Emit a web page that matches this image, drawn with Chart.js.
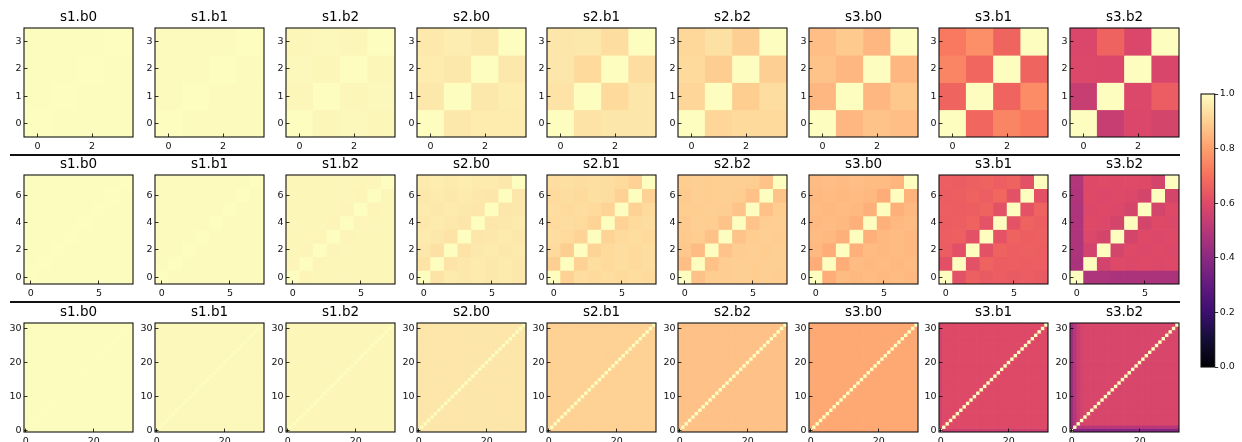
<!DOCTYPE html>
<html lang="en">
<head>
<meta charset="UTF-8">
<title>Block similarity heatmaps</title>
<script src="https://cdn.jsdelivr.net/npm/chart.js"></script>
<style>
  body { margin: 0; background: #fff; overflow: hidden; }
  #fig { position: relative; width: 1242px; height: 442px; overflow: hidden; background: #fff; }
  #fig canvas { position: absolute; }
  .sep { position: absolute; left: 10px; width: 1170px; height: 2px; background: #111; }
</style>
</head>
<body>
<div id="fig">
  <div class="sep" style="top:154px"></div>
  <div class="sep" style="top:301px"></div>
</div>
<script>
// ---- data ----
const titles = ['s1.b0', 's1.b1', 's1.b2', 's2.b0', 's2.b1', 's2.b2', 's3.b0', 's3.b1', 's3.b2'];
const matrixSizes = [4, 8, 32];
const xTicks = [[0, 2], [0, 5], [0, 20]];
const yTicks = [[0, 1, 2, 3], [0, 2, 4, 6], [0, 10, 20, 30]];
const colorbarTicks = [0, 0.2, 0.4, 0.6, 0.8, 1.0];

// 4x4 blocks, rows listed from y = 0 (bottom) upward
const s1b0_4 = [[1, 0.997, 0.997, 0.997], [0.997, 1, 0.997, 0.997], [0.997, 0.997, 1, 0.997], [0.997, 0.997, 0.997, 1]];
const s1b1_4 = [[1, 0.995, 0.996, 0.995], [0.995, 1, 0.995, 0.996], [0.996, 0.995, 1, 0.995], [0.995, 0.996, 0.995, 1]];
const s1b2_4 = [[1, 0.984, 0.99, 0.987], [0.984, 1, 0.987, 0.99], [0.99, 0.987, 1, 0.985], [0.987, 0.99, 0.985, 1]];
const s2b0_4 = [[1, 0.955, 0.962, 0.962], [0.955, 1, 0.955, 0.965], [0.962, 0.955, 1, 0.955], [0.957, 0.966, 0.955, 1]];
const s2b1_4 = [[1, 0.945, 0.95, 0.95], [0.945, 1, 0.925, 0.95], [0.95, 0.925, 1, 0.93], [0.95, 0.955, 0.93, 1]];
const s2b2_4 = [[1, 0.915, 0.925, 0.925], [0.915, 1, 0.895, 0.93], [0.925, 0.895, 1, 0.9], [0.92, 0.94, 0.9, 1]];
const s3b0_4 = [[1, 0.85, 0.875, 0.865], [0.85, 1, 0.85, 0.885], [0.875, 0.85, 1, 0.85], [0.865, 0.89, 0.85, 1]];
const s3b1_4 = [[1, 0.675, 0.745, 0.72], [0.67, 1, 0.67, 0.76], [0.745, 0.675, 1, 0.67], [0.72, 0.765, 0.67, 1]];
const s3b2_4 = [[1, 0.54, 0.59, 0.575], [0.54, 1, 0.595, 0.65], [0.595, 0.59, 1, 0.585], [0.59, 0.665, 0.59, 1]];

// 8x8 blocks, rows from y = 0 upward
const s1b0_8 = [
  [1, 0.997, 0.997, 0.997, 0.997, 0.997, 0.997, 0.997],
  [0.997, 1, 0.997, 0.997, 0.997, 0.997, 0.997, 0.997],
  [0.997, 0.997, 1, 0.997, 0.997, 0.997, 0.997, 0.997],
  [0.997, 0.997, 0.997, 1, 0.997, 0.997, 0.997, 0.997],
  [0.997, 0.997, 0.997, 0.997, 1, 0.997, 0.997, 0.997],
  [0.997, 0.997, 0.997, 0.997, 0.997, 1, 0.997, 0.997],
  [0.997, 0.997, 0.997, 0.997, 0.997, 0.997, 1, 0.997],
  [0.997, 0.997, 0.997, 0.997, 0.997, 0.997, 0.997, 1]];
const s1b1_8 = [
  [1, 0.993, 0.995, 0.994, 0.995, 0.994, 0.995, 0.994],
  [0.993, 1, 0.993, 0.995, 0.994, 0.995, 0.994, 0.995],
  [0.995, 0.993, 1, 0.993, 0.995, 0.994, 0.995, 0.994],
  [0.994, 0.995, 0.993, 1, 0.993, 0.995, 0.994, 0.995],
  [0.995, 0.994, 0.995, 0.993, 1, 0.993, 0.995, 0.994],
  [0.994, 0.995, 0.994, 0.995, 0.993, 1, 0.993, 0.995],
  [0.995, 0.994, 0.995, 0.994, 0.995, 0.993, 1, 0.993],
  [0.994, 0.995, 0.994, 0.995, 0.994, 0.995, 0.993, 1]];
const s1b2_8 = [
  [1, 0.982, 0.986, 0.985, 0.986, 0.985, 0.986, 0.985],
  [0.982, 1, 0.982, 0.986, 0.985, 0.986, 0.985, 0.986],
  [0.986, 0.982, 1, 0.983, 0.986, 0.985, 0.986, 0.985],
  [0.985, 0.986, 0.983, 1, 0.983, 0.986, 0.985, 0.986],
  [0.986, 0.985, 0.986, 0.983, 1, 0.983, 0.986, 0.985],
  [0.985, 0.986, 0.985, 0.986, 0.983, 1, 0.983, 0.986],
  [0.986, 0.985, 0.986, 0.985, 0.986, 0.983, 1, 0.984],
  [0.986, 0.987, 0.986, 0.987, 0.986, 0.986, 0.984, 1]];
const s2b0_8 = [
  [1, 0.945, 0.96, 0.955, 0.96, 0.955, 0.96, 0.955],
  [0.945, 1, 0.945, 0.955, 0.96, 0.955, 0.96, 0.955],
  [0.955, 0.94, 1, 0.945, 0.955, 0.96, 0.955, 0.96],
  [0.96, 0.955, 0.945, 1, 0.95, 0.955, 0.96, 0.955],
  [0.955, 0.96, 0.955, 0.95, 1, 0.95, 0.955, 0.96],
  [0.96, 0.955, 0.96, 0.955, 0.95, 1, 0.95, 0.955],
  [0.955, 0.96, 0.955, 0.96, 0.955, 0.95, 1, 0.95],
  [0.96, 0.965, 0.96, 0.965, 0.96, 0.96, 0.955, 1]];
const s2b1_8 = [
  [1, 0.905, 0.93, 0.925, 0.93, 0.925, 0.93, 0.925],
  [0.9, 1, 0.905, 0.93, 0.925, 0.93, 0.925, 0.93],
  [0.925, 0.895, 1, 0.91, 0.925, 0.93, 0.925, 0.93],
  [0.93, 0.925, 0.91, 1, 0.91, 0.925, 0.93, 0.925],
  [0.925, 0.93, 0.925, 0.91, 1, 0.905, 0.925, 0.93],
  [0.93, 0.925, 0.93, 0.925, 0.91, 1, 0.905, 0.925],
  [0.925, 0.93, 0.925, 0.935, 0.93, 0.905, 1, 0.905],
  [0.93, 0.935, 0.93, 0.935, 0.93, 0.925, 0.905, 1]];
const s2b2_8 = [
  [1, 0.87, 0.895, 0.895, 0.9, 0.895, 0.9, 0.895],
  [0.865, 1, 0.87, 0.895, 0.9, 0.895, 0.9, 0.9],
  [0.885, 0.86, 1, 0.875, 0.895, 0.9, 0.895, 0.9],
  [0.89, 0.895, 0.87, 1, 0.875, 0.895, 0.9, 0.895],
  [0.89, 0.9, 0.895, 0.875, 1, 0.875, 0.895, 0.9],
  [0.895, 0.895, 0.9, 0.895, 0.875, 1, 0.87, 0.895],
  [0.89, 0.9, 0.895, 0.9, 0.895, 0.87, 1, 0.875],
  [0.895, 0.9, 0.895, 0.9, 0.9, 0.895, 0.875, 1]];
const s3b0_8 = [
  [1, 0.83, 0.86, 0.855, 0.86, 0.855, 0.86, 0.855],
  [0.83, 1, 0.83, 0.86, 0.855, 0.86, 0.855, 0.86],
  [0.855, 0.83, 1, 0.835, 0.86, 0.855, 0.86, 0.855],
  [0.86, 0.855, 0.835, 1, 0.835, 0.855, 0.86, 0.855],
  [0.855, 0.86, 0.855, 0.835, 1, 0.835, 0.855, 0.86],
  [0.86, 0.855, 0.86, 0.855, 0.835, 1, 0.835, 0.855],
  [0.855, 0.86, 0.855, 0.86, 0.855, 0.83, 1, 0.84],
  [0.86, 0.865, 0.86, 0.865, 0.86, 0.86, 0.845, 1]];
const s3b1_8 = [
  [1, 0.62, 0.66, 0.645, 0.65, 0.645, 0.65, 0.645],
  [0.615, 1, 0.62, 0.665, 0.65, 0.655, 0.65, 0.655],
  [0.65, 0.615, 1, 0.62, 0.665, 0.655, 0.66, 0.655],
  [0.655, 0.66, 0.62, 1, 0.625, 0.665, 0.655, 0.66],
  [0.65, 0.655, 0.665, 0.625, 1, 0.625, 0.665, 0.655],
  [0.655, 0.65, 0.655, 0.665, 0.62, 1, 0.625, 0.665],
  [0.65, 0.655, 0.665, 0.655, 0.675, 0.62, 1, 0.62],
  [0.655, 0.65, 0.66, 0.665, 0.655, 0.665, 0.62, 1]];
const s3b2_8 = [
  [1, 0.48, 0.48, 0.47, 0.47, 0.47, 0.47, 0.47],
  [0.47, 1, 0.57, 0.6, 0.595, 0.6, 0.595, 0.6],
  [0.48, 0.57, 1, 0.575, 0.6, 0.595, 0.6, 0.595],
  [0.48, 0.595, 0.575, 1, 0.575, 0.6, 0.595, 0.6],
  [0.48, 0.6, 0.595, 0.575, 1, 0.575, 0.6, 0.595],
  [0.48, 0.595, 0.6, 0.595, 0.575, 1, 0.575, 0.6],
  [0.485, 0.6, 0.595, 0.6, 0.595, 0.575, 1, 0.575],
  [0.49, 0.6, 0.605, 0.6, 0.605, 0.6, 0.575, 1]];

// 32x32 blocks: off-diagonal level read per panel, diagonal = 1,
// plus the left columns / bottom rows that read darker
const offDiag32 = [0.998, 0.99, 0.985, 0.95, 0.905, 0.87, 0.82, 0.6, 0.585];
const leftCols32 = [[], [], [], [], [], [], [], [0.57], [0.44, 0.5, 0.545, 0.57]];
const bottomRows32 = [[], [], [], [], [], [], [], [0.55], [0.38, 0.5]];

const blocks4 = [s1b0_4, s1b1_4, s1b2_4, s2b0_4, s2b1_4, s2b2_4, s3b0_4, s3b1_4, s3b2_4];
const blocks8 = [s1b0_8, s1b1_8, s1b2_8, s2b0_8, s2b1_8, s2b2_8, s3b0_8, s3b1_8, s3b2_8];

function block32(k) {
  const n = matrixSizes[2], m = [];
  for (let y = 0; y < n; y++) {
    const row = [];
    for (let x = 0; x < n; x++) {
      let v = offDiag32[k];
      if (leftCols32[k][x] !== undefined) v = Math.min(v, leftCols32[k][x]);
      if (bottomRows32[k][y] !== undefined) v = Math.min(v, bottomRows32[k][y]);
      row.push(x === y ? 1 : v);
    }
    m.push(row);
  }
  return m;
}

// ---- colours ----
const magmaStops = ['#000004', '#140e36', '#3b0f70', '#641a80', '#8c2981', '#b73779',
                    '#de4968', '#f7705c', '#fe9f6d', '#fecf92', '#fcfdbf'];
const magmaRgb = magmaStops.map(h => [1, 3, 5].map(i => parseInt(h.substr(i, 2), 16)));
function magma(v) {
  v = Math.max(0, Math.min(1, v));
  const p = v * 10, i = Math.min(9, Math.floor(p)), t = p - i;
  const a = magmaRgb[i], b = magmaRgb[i + 1];
  const c = a.map((q, j) => Math.round(q + (b[j] - q) * t));
  return `rgb(${c[0]},${c[1]},${c[2]})`;
}

// ---- layout ----
Chart.defaults.font.family = 'DejaVu Sans';
Chart.defaults.color = '#111';

const fig = document.getElementById('fig');
const colLeft = [24, 155, 286, 417, 547, 678, 809, 939, 1070];
const rowTop = [28, 175, 323];
const panel = 109;
const yAxisW = 24, titleH = 30, xAxisH = 16, padRight = 8;
const tickFont = 9.5;

const frame = {
  id: 'frame',
  afterDraw(chart) {
    const a = chart.chartArea, ctx = chart.ctx;
    ctx.save();
    ctx.strokeStyle = '#111';
    ctx.lineWidth = 1.1;
    ctx.strokeRect(a.left, a.top, a.right - a.left, a.bottom - a.top);
    ctx.restore();
  }
};

function axis(kind, n, ticks) {
  return {
    type: 'linear',
    position: kind === 'x' ? 'bottom' : 'left',
    min: -0.5,
    max: n - 0.5,
    afterBuildTicks: s => { s.ticks = ticks.map(v => ({ value: v })); },
    afterFit: s => {
      if (kind === 'x') s.height = xAxisH; else s.width = yAxisW;
      s.paddingLeft = s.paddingRight = s.paddingTop = s.paddingBottom = 0;
    },
    border: { display: false },
    grid: { drawOnChartArea: false, drawTicks: true, tickLength: -3.5, color: '#000', lineWidth: 0.8, z: 1 },
    ticks: { autoSkip: false, maxRotation: 0, padding: kind === 'x' ? 7.3 : 6,
             font: { size: tickFont }, callback: v => v }
  };
}

function cellHalf(chart) {
  const s = chart.scales.x;
  if (!s) return 1;
  return Math.abs(s.getPixelForValue(1) - s.getPixelForValue(0)) / 2 + 0.35;
}

function heatmap(r, c, m) {
  const n = m.length;
  const cv = document.createElement('canvas');
  cv.width = yAxisW + panel + padRight;
  cv.height = titleH + panel + xAxisH;
  cv.style.left = (colLeft[c] - yAxisW) + 'px';
  cv.style.top = (rowTop[r] - titleH) + 'px';
  fig.appendChild(cv);

  const pts = [];
  m.forEach((row, y) => row.forEach((v, x) => pts.push({ x, y, v })));

  new Chart(cv, {
    type: 'scatter',
    data: {
      datasets: [{
        data: pts,
        pointStyle: 'rect',
        borderWidth: 0,
        backgroundColor: ctx => ctx.raw ? magma(ctx.raw.v) : '#000',
        pointRadius: ctx => cellHalf(ctx.chart) * Math.SQRT2
      }]
    },
    options: {
      responsive: false, animation: false, events: [], devicePixelRatio: 1,
      layout: { padding: { right: padRight } },
      plugins: {
        legend: { display: false },
        tooltip: { enabled: false },
        title: { display: true, fullSize: false, text: titles[c], color: '#000',
                 font: { size: 13.5, weight: 'normal' }, padding: { top: 11.6, bottom: 2.2 } }
      },
      scales: { x: axis('x', n, xTicks[r]), y: axis('y', n, yTicks[r]) }
    },
    plugins: [frame]
  });
}

titles.forEach((t, c) => {
  heatmap(0, c, blocks4[c]);
  heatmap(1, c, blocks8[c]);
  heatmap(2, c, block32(c));
});

// ---- colour bar ----
const cb = document.createElement('canvas');
cb.width = 52; cb.height = 300;
cb.style.left = '1190px'; cb.style.top = '84px';
fig.appendChild(cb);

function barGradient(chart) {
  const s = chart.scales.y;
  if (!s || !chart.chartArea) return '#000';
  const g = chart.ctx.createLinearGradient(0, s.getPixelForValue(0), 0, s.getPixelForValue(1));
  magmaStops.forEach((col, i) => g.addColorStop(i / (magmaStops.length - 1), col));
  return g;
}

new Chart(cb, {
  type: 'bar',
  data: {
    labels: [''],
    datasets: [{
      data: [[colorbarTicks[0], colorbarTicks[colorbarTicks.length - 1]]],
      backgroundColor: ctx => barGradient(ctx.chart),
      borderWidth: 0, barPercentage: 1, categoryPercentage: 1
    }]
  },
  options: {
    responsive: false, animation: false, events: [], devicePixelRatio: 1,
    layout: { padding: { left: 11, top: 10, bottom: 17, right: 0 } },
    plugins: { legend: { display: false }, tooltip: { enabled: false } },
    scales: {
      x: { display: false },
      y: {
        position: 'right', min: 0, max: 1,
        afterBuildTicks: s => { s.ticks = colorbarTicks.map(v => ({ value: v })); },
        afterFit: s => { s.width = 27.3; s.paddingTop = s.paddingBottom = 0; },
        border: { display: false },
        grid: { drawOnChartArea: false, tickLength: 3.5, color: '#000', lineWidth: 0.8 },
        ticks: { padding: 1.5, font: { size: tickFont }, callback: v => v.toFixed(1) }
      }
    }
  },
  plugins: [frame]
});
</script>
</body>
</html>
